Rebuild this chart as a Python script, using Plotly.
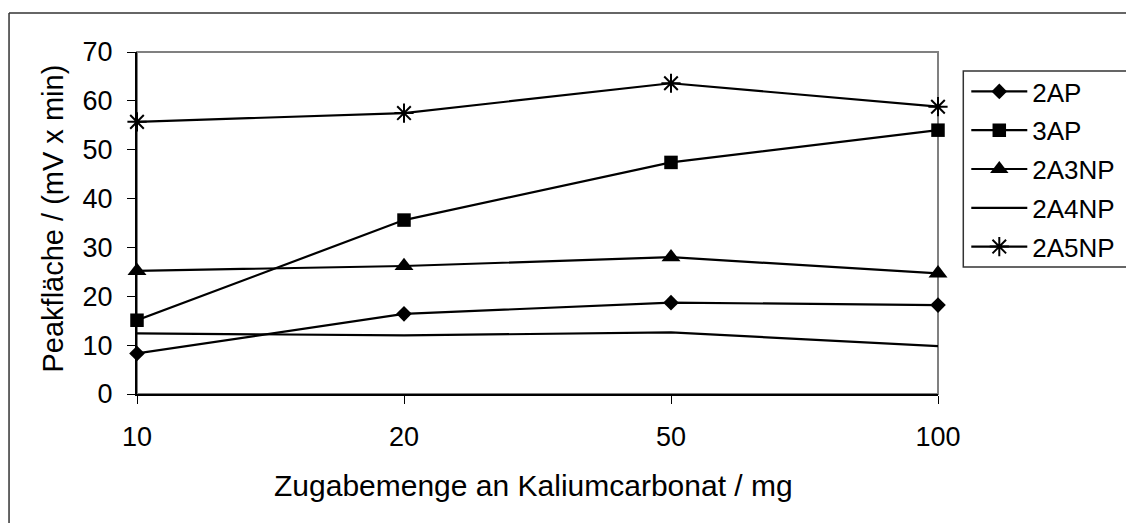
import plotly.graph_objects as go

categories = ["10", "20", "50", "100"]
s_2AP = [8.3, 16.4, 18.7, 18.2]
s_3AP = [15.1, 35.6, 47.4, 54.0]
s_2A3NP = [25.2, 26.2, 28.0, 24.7]
s_2A4NP = [12.4, 12.0, 12.6, 9.8]
s_2A5NP = [55.7, 57.5, 63.6, 58.8]

W, H = 1126, 523
L, R, T, B = 136.5, 937.7, 52, 394  # plot area pixel edges

def px(x):
    return (x - L) / (R - L)

def py(y):
    return (B - y) / (B - T)

FONT = "Liberation Sans, Arial, sans-serif"
xpos = list(range(len(categories)))

series = [
    ("2AP", s_2AP, dict(symbol="diamond", size=12, color="black")),
    ("3AP", s_3AP, dict(symbol="square", size=13.5, color="black")),
    ("2A3NP", s_2A3NP, dict(symbol="triangle-up", size=16.5, color="black")),
    ("2A4NP", s_2A4NP, None),
    ("2A5NP", s_2A5NP, dict(symbol="asterisk-open", size=16, color="black",
                            line=dict(color="black", width=2))),
]

fig = go.Figure()
for i, (name, vals, mk) in enumerate(series):
    fig.add_trace(go.Scatter(
        x=xpos, y=vals, name=name,
        mode="lines+markers" if mk else "lines",
        line=dict(color="black", width=2.2),
        marker=mk if mk else None,
        cliponaxis=False,
        legendgroup=name,
    ))

shapes = [
    dict(type="rect", xref="paper", yref="paper", x0=0, x1=1, y0=0, y1=1,
         line=dict(color="#808080", width=2), layer="below"),
    dict(type="line", xref="paper", yref="paper", x0=px(8.5), x1=px(1140),
         y0=py(13), y1=py(13), line=dict(color="#333333", width=1.5)),
    dict(type="line", xref="paper", yref="paper", x0=px(8.5), x1=px(8.5),
         y0=py(13), y1=py(540), line=dict(color="#333333", width=1.5)),
    dict(type="rect", xref="paper", yref="paper", x0=px(963), x1=px(1140),
         y0=py(267), y1=py(71), line=dict(color="#333333", width=1.5)),
]

annotations = [
    dict(text="Zugabemenge an Kaliumcarbonat / mg", xref="paper", yref="paper",
         x=px(533), y=py(485), xanchor="center", yanchor="middle",
         showarrow=False, font=dict(family=FONT, size=30, color="black")),
    dict(text="Peakfläche / (mV x min)", xref="paper", yref="paper",
         x=px(52), y=py(219), xanchor="center", yanchor="middle", textangle=-90,
         showarrow=False, font=dict(family=FONT, size=29, color="black")),
]

fig.update_layout(
    width=W, height=H, autosize=False,
    margin=dict(l=L, r=W - R, t=T, b=H - B, pad=0, autoexpand=False),
    paper_bgcolor="white", plot_bgcolor="white",
    font=dict(family=FONT, color="black"),
    showlegend=True,
    legend=dict(x=px(966), y=py(68), xanchor="left", yanchor="top",
                bgcolor="rgba(0,0,0,0)", borderwidth=0,
                font=dict(family=FONT, size=26, color="black"),
                traceorder="grouped", tracegroupgap=2, itemwidth=56),
    shapes=shapes,
    annotations=annotations,
)

fig.update_xaxes(
    range=[0, 3], tickvals=xpos, ticktext=categories,
    showgrid=False, zeroline=False, showline=True, linecolor="black", linewidth=2,
    ticks="outside", ticklen=8, tickcolor="black", tickwidth=1,
    tickfont=dict(family=FONT, size=27, color="black"),
    ticklabelstandoff=10,
)
fig.update_yaxes(
    range=[0, 70], tickvals=[0, 10, 20, 30, 40, 50, 60, 70],
    showgrid=False, zeroline=False, showline=True, linecolor="black", linewidth=2,
    ticks="outside", ticklen=8, tickcolor="black", tickwidth=1,
    tickfont=dict(family=FONT, size=27, color="black"),
    ticklabelstandoff=9,
)

fig.write_html("out.html")
